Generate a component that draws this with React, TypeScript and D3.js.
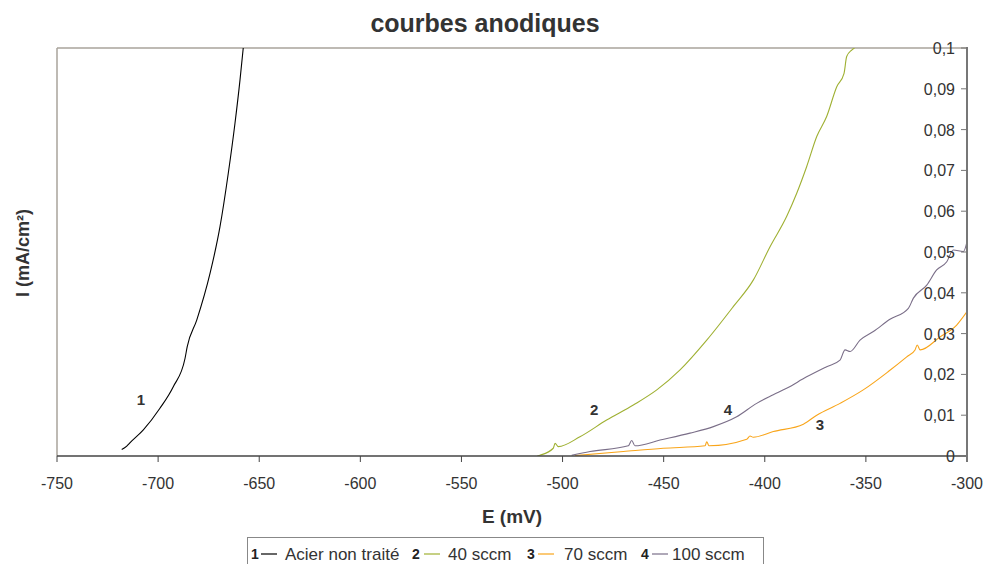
import React from "react";
import * as d3 from "d3";

const xTicks = [-750, -700, -650, -600, -550, -500, -450, -400, -350, -300];
const yTicks = [0, 0.01, 0.02, 0.03, 0.04, 0.05, 0.06, 0.07, 0.08, 0.09, 0.1];
const yTickLabels = ["0", "0,01", "0,02", "0,03", "0,04", "0,05", "0,06", "0,07", "0,08", "0,09", "0,1"];

// Courbe 1 : Acier non traité
const e1 = [-718.0, -715.5, -714.2, -707.3, -699.1, -692.5, -686.7, -685.6, -680.9, -674.3, -669.4, -665.3, -662.0, -659.5, -657.9];
const i1 = [0.0016, 0.0024, 0.0031, 0.0064, 0.0117, 0.017, 0.0239, 0.0268, 0.0333, 0.0448, 0.0562, 0.0693, 0.0815, 0.0922, 0.1];

// Courbe 2 : 40 sccm
const e2 = [-512.5, -511.1, -504.6, -503.7, -502.1, -491.4, -478.2, -465.0, -453.4, -441.9, -428.7, -415.6, -405.7, -397.4, -389.2, -384.2, -379.3, -374.3, -369.4, -364.4, -360.8, -359.5, -357.0, -355.6];
const i2 = [0, 0.0002, 0.0019, 0.0031, 0.0023, 0.0047, 0.0088, 0.0125, 0.0162, 0.0211, 0.0284, 0.0366, 0.0431, 0.0513, 0.0587, 0.0644, 0.0709, 0.0783, 0.0832, 0.0905, 0.0938, 0.0979, 0.0995, 0.1];

// Courbe 3 : 70 sccm
const e3 = [-493.8, -469.9, -450.2, -429.5, -428.7, -427.6, -408.9, -407.3, -405.7, -395.8, -380.9, -374.3, -362.8, -351.3, -338.9, -329.8, -325.7, -324.6, -323.2, -313.3, -305.1, -300.0];
const i3 = [0.0001, 0.0011, 0.0019, 0.0025, 0.0035, 0.0025, 0.0041, 0.0049, 0.0046, 0.006, 0.0078, 0.01, 0.0129, 0.0162, 0.0207, 0.0243, 0.026, 0.0272, 0.026, 0.0292, 0.0321, 0.0354];

// Courbe 4 : 100 sccm
const e4 = [-495.5, -486.4, -467.5, -465.8, -464.2, -451.8, -437.0, -425.4, -413.9, -404.0, -395.8, -389.2, -379.3, -369.4, -362.8, -360.3, -357.8, -352.9, -346.3, -338.1, -329.0, -326.5, -319.9, -315.0, -310.0, -306.8, -301.8, -300.0];
const i4 = [0.0002, 0.0011, 0.0025, 0.0038, 0.0025, 0.0039, 0.0056, 0.0072, 0.0096, 0.0129, 0.015, 0.0166, 0.0194, 0.0219, 0.0235, 0.026, 0.0256, 0.0284, 0.0305, 0.0335, 0.0362, 0.0387, 0.0419, 0.0456, 0.0476, 0.0505, 0.0501, 0.0525];

const seriesNames = ["Acier non traité", "40 sccm", "70 sccm", "100 sccm"];
const seriesNums = ["1", "2", "3", "4"];
const seriesColors = ["#000000", "#9fb032", "#f9a51a", "#7a6e88"];
const seriesE = [e1, e2, e3, e4];
const seriesI = [i1, i2, i3, i4];
// curve label anchors (data coords)
const labelE = [-708.5, -484.4, -372.7, -418.2];
const labelI = [0.014, 0.0115, 0.0078, 0.0115];

const FONT = "'Liberation Sans', Arial, sans-serif";

export default function App() {
  const W = 986, H = 564;
  const L = 57, R = 967, T = 48, B = 456;
  const x = d3.scaleLinear().domain([-750, -300]).range([L, R]);
  const y = d3.scaleLinear().domain([0, 0.1]).range([B, T]);
  const line = d3.line<[number, number]>().x(d => x(d[0])).y(d => y(d[1])).curve(d3.curveMonotoneX);

  const legendNumX = [251, 412, 527, 641];
  const legendLineX = [261, 424, 538, 652];
  const legendTextX = [285, 448, 564, 672];

  return (
    <svg width={W} height={H} style={{ position: "absolute", left: 0, top: 0, background: "#fff" }} fontFamily={FONT}>
      <rect x={0} y={0} width={W} height={H} fill="#fff" />
      <text x={485} y={32} textAnchor="middle" fontSize={25} fontWeight="bold" fill="#333">courbes anodiques</text>

      {/* plot frame */}
      <line x1={L} y1={T} x2={R} y2={T} stroke="#a8a39b" strokeWidth={1.5} />
      <line x1={L} y1={T} x2={L} y2={B} stroke="#a8a39b" strokeWidth={1.5} />

      <defs>
        <clipPath id="plot">
          <rect x={L} y={T} width={R - L} height={B - T} />
        </clipPath>
      </defs>
      <g clipPath="url(#plot)">
        {seriesE.map((es, k) => (
          <path key={k} d={line(es.map((e, j) => [e, seriesI[k][j]] as [number, number])) || ""}
            fill="none" stroke={seriesColors[k]} strokeWidth={1.1} />
        ))}
      </g>

      {/* x axis */}
      <line x1={L} y1={B} x2={R} y2={B} stroke="#444" strokeWidth={1.5} />
      {xTicks.map(t => (
        <g key={t}>
          <line x1={x(t)} y1={B} x2={x(t)} y2={B + 6} stroke="#444" />
          <text x={x(t)} y={489} textAnchor="middle" fontSize={16} fill="#333">{t}</text>
        </g>
      ))}
      <text x={512} y={523} textAnchor="middle" fontSize={19} fontWeight="bold" fill="#333">E (mV)</text>

      {/* y axis on right */}
      <line x1={R} y1={T - 1} x2={R} y2={B + 6} stroke="#777" strokeWidth={2} />
      {yTicks.map((t, k) => (
        <g key={t}>
          <line x1={R - 6} y1={y(t)} x2={R} y2={y(t)} stroke="#777" />
          <text x={955} y={y(t) + 6} textAnchor="end" fontSize={16} fill="#333">{yTickLabels[k]}</text>
        </g>
      ))}
      <text transform="translate(29,253) rotate(-90)" textAnchor="middle" fontSize={18} fontWeight="bold" fill="#333">I (mA/cm²)</text>

      {/* curve labels */}
      {seriesNums.map((n, k) => (
        <text key={n} x={x(labelE[k])} y={y(labelI[k]) + 6} textAnchor="middle" fontSize={15} fontWeight="bold" fill="#333">{n}</text>
      ))}

      {/* legend */}
      <rect x={247.5} y={537.5} width={516} height={27} fill="#fff" stroke="#888" />
      {seriesNames.map((n, k) => (
        <g key={n}>
          <text x={legendNumX[k]} y={559} fontSize={14} fontWeight="bold" fill="#222">{seriesNums[k]}</text>
          <line x1={legendLineX[k]} y1={554} x2={legendLineX[k] + 16} y2={554} stroke={seriesColors[k]} strokeWidth={1.2} />
          <text x={legendTextX[k]} y={560} fontSize={17} fill="#333">{n}</text>
        </g>
      ))}
    </svg>
  );
}
